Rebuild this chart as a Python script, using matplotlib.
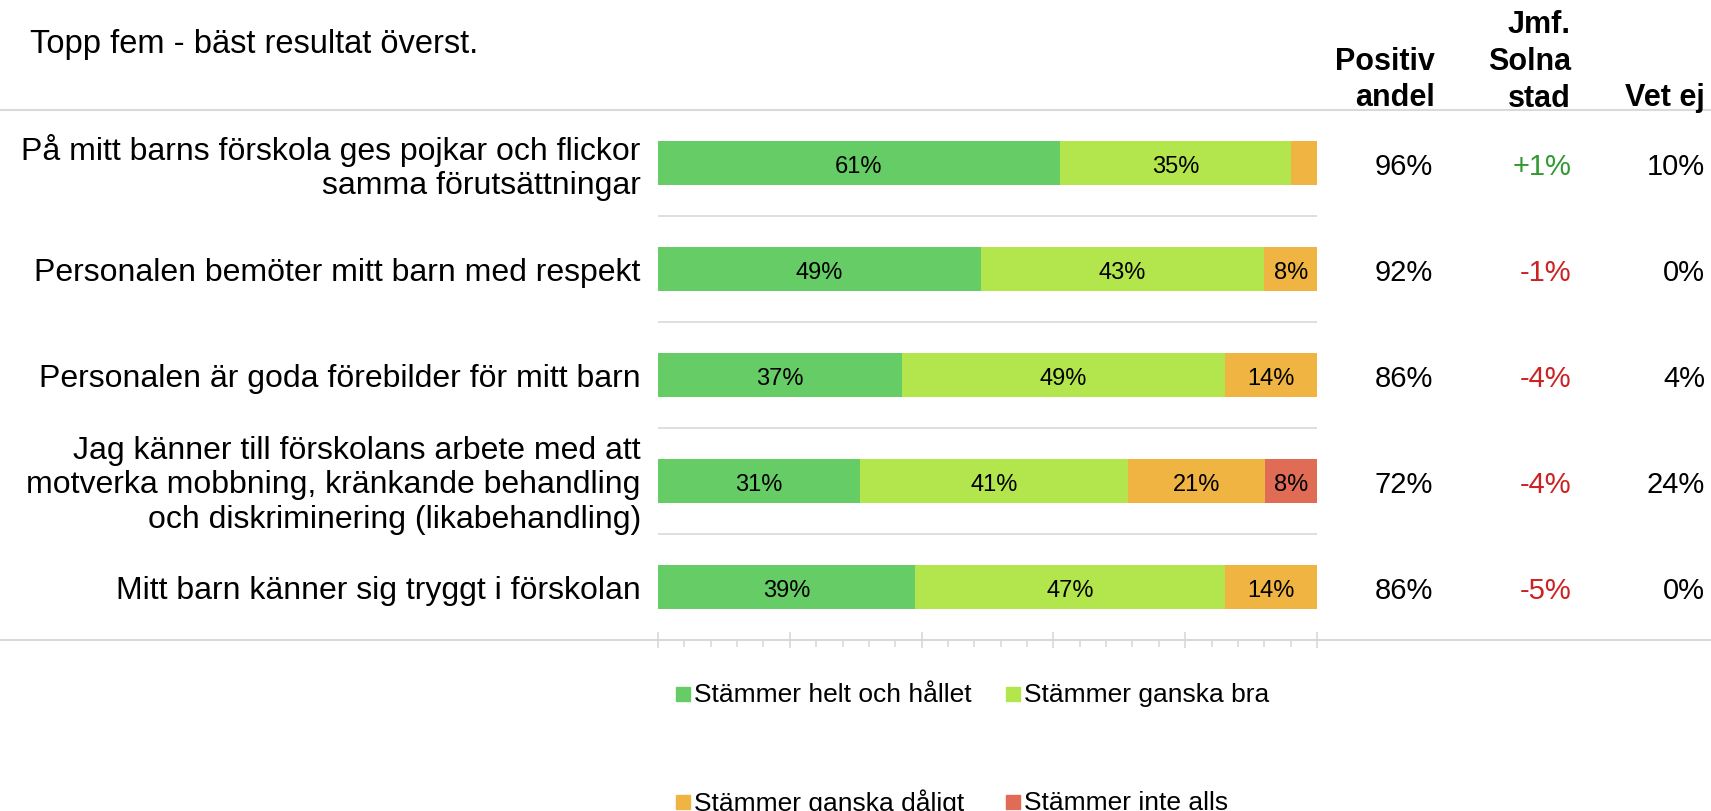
import matplotlib.pyplot as plt
from matplotlib.patches import Rectangle
from matplotlib.lines import Line2D
from matplotlib.transforms import offset_copy
import numpy as np

plt.rcParams['font.family'] = ['Liberation Sans', 'DejaVu Sans']

title = "Topp fem - bäst resultat överst."
questions = [
    "På mitt barns förskola ges pojkar och flickor\nsamma förutsättningar",
    "Personalen bemöter mitt barn med respekt",
    "Personalen är goda förebilder för mitt barn",
    "Jag känner till förskolans arbete med att\nmotverka mobbning, kränkande behandling\noch diskriminering (likabehandling)",
    "Mitt barn känner sig tryggt i förskolan",
]
series = ["Stämmer helt och hållet", "Stämmer ganska bra",
          "Stämmer ganska dåligt", "Stämmer inte alls"]
helt = [61, 49, 37, 31, 39]
bra = [35, 43, 49, 41, 47]
daligt = [4, 8, 14, 21, 14]
inte = [0, 0, 0, 8, 0]
positiv = ["96%", "92%", "86%", "72%", "86%"]
jmf = ["+1%", "-1%", "-4%", "-4%", "-5%"]
vet_ej = ["10%", "0%", "4%", "24%", "0%"]

colors = ["#66cc66", "#b3e64d", "#f0b443", "#e06c55"]
grid_c = "#d9d9d9"

W, H = 1711, 812
fig = plt.figure(figsize=(W / 100, H / 100), dpi=100)

def px(x, y):
    return x / W, 1 - y / H

ax_l, ax_r, ax_t, ax_b = 658, 1317, 111, 641
ax = fig.add_axes([ax_l / W, 1 - ax_b / H, (ax_r - ax_l) / W, (ax_b - ax_t) / H])

# nudge text down a bit so glyphs sit centred on the bars
data_tr = offset_copy(ax.transData, fig=fig, y=-2.4, units='points')
ytr = offset_copy(ax.get_yaxis_transform(), fig=fig, y=-2.4, units='points')

data = np.array([helt, bra, daligt, inte], dtype=float)
totals = data.sum(axis=0)
shares = data / totals * 100
y = np.arange(len(questions))
left = np.zeros(len(questions))
for j in range(4):
    ax.barh(y, shares[j], left=left, height=0.41, color=colors[j], label=series[j])
    for i in range(len(questions)):
        if data[j, i] >= 5:
            ax.text(left[i] + shares[j, i] / 2, y[i], f"{int(data[j, i])}%",
                    transform=data_tr, ha='center', va='center', fontsize=17, color='black')
    left += shares[j]

ax.hlines([0.5, 1.5, 2.5, 3.5], 0, 100, color=grid_c, lw=1.2)
ax.set_xlim(0, 100)
ax.set_ylim(len(questions) - 0.5, -0.5)
for s in ax.spines.values():
    s.set_visible(False)
ax.set_yticks([])
ax.set_xticks(range(0, 101, 20))
ax.set_xticks(range(0, 101, 4), minor=True)
ax.tick_params(axis='x', which='major', direction='inout', length=12, color=grid_c, width=1.2, labelbottom=False)
ax.tick_params(axis='x', which='minor', direction='out', length=5, color=grid_c, width=1.2)

# full-width rules
fig.add_artist(Line2D([0, 1], [1 - ax_t / H] * 2, color=grid_c, lw=1.5))
fig.add_artist(Line2D([0, 1], [1 - ax_b / H] * 2, color=grid_c, lw=1.5))

for i, q in enumerate(questions):
    ax.text(-0.026, i, q, transform=ytr, ha='right', va='center',
            multialignment='right', fontsize=23, linespacing=1.2)
    ax.text((1433 - ax_l) / (ax_r - ax_l), i, positiv[i], transform=ytr,
            ha='right', va='center', fontsize=21)
    c = "#339933" if jmf[i].startswith("+") else "#cc2222"
    ax.text((1571 - ax_l) / (ax_r - ax_l), i, jmf[i], transform=ytr,
            ha='right', va='center', fontsize=21, color=c)
    ax.text((1705 - ax_l) / (ax_r - ax_l), i, vet_ej[i], transform=ytr,
            ha='right', va='center', fontsize=21)

fig.text(*px(30, 45), title, ha='left', va='center', fontsize=23.5)
fig.text(*px(1435, 80), "Positiv\nandel", ha='right', va='center',
         multialignment='right', fontsize=22, fontweight='bold', linespacing=1.3)
fig.text(*px(1571, 62), "Jmf.\nSolna\nstad", ha='right', va='center',
         multialignment='right', fontsize=22, fontweight='bold', linespacing=1.3)
fig.text(*px(1705, 98), "Vet ej", ha='right', va='center',
         fontsize=22, fontweight='bold')

# legend (two rows, two columns)
leg_pos = [(676, 695), (1006, 695), (676, 803), (1006, 803)]
for j, (lx, ly) in enumerate(leg_pos):
    fig.add_artist(Rectangle(px(lx, ly + 7), 14 / W, 14 / H, color=colors[j],
                             transform=fig.transFigure))
    fig.text(*px(lx + 18, ly), series[j], ha='left', va='center', fontsize=19)

fig.savefig("out.png", dpi=100)
